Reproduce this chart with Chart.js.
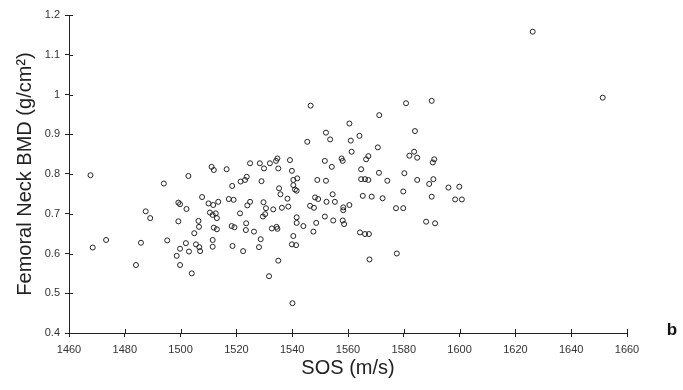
<!DOCTYPE html>
<html>
<head>
<meta charset="utf-8">
<script src="https://cdn.jsdelivr.net/npm/chart.js@4.4.1/dist/chart.umd.min.js"></script>
<style>
  html, body { margin: 0; padding: 0; background: #ffffff; }
  #wrap { width: 683px; height: 390px; }
</style>
</head>
<body>
<div id="wrap"><canvas id="c" width="683" height="390"></canvas></div>
<script>
// SOS (m/s)
const sosValues = [
  1467.7, 1468.5, 1473.3, 1484.0, 1485.8, 1487.5, 1489.1, 1494.0, 1495.2, 1499.2,
  1499.8, 1502.1, 1499.2, 1502.8, 1507.7, 1511.1, 1511.9, 1516.5, 1517.3, 1510.0,
  1511.7, 1513.5, 1510.5, 1512.6, 1511.5, 1513.0, 1506.4, 1506.6, 1504.9, 1511.9,
  1513.0, 1511.5, 1511.5, 1501.9, 1499.8, 1503.0, 1498.6, 1505.5, 1506.7, 1507.0,
  1499.8, 1504.0, 1546.6, 1545.4, 1534.7, 1534.2, 1539.2, 1524.9, 1528.4, 1529.9,
  1532.0, 1535.0, 1539.9, 1523.7, 1523.1, 1521.5, 1529.0, 1541.8, 1540.4, 1549.0,
  1518.5, 1540.4, 1541.0, 1541.6, 1535.3, 1535.8, 1519.0, 1538.3, 1548.2, 1549.3,
  1524.9, 1523.9, 1529.7, 1546.4, 1547.8, 1536.3, 1538.6, 1530.6, 1533.2, 1521.3,
  1529.5, 1530.3, 1541.6, 1518.3, 1519.3, 1523.5, 1523.4, 1526.3, 1528.7, 1532.7,
  1534.4, 1534.7, 1541.6, 1544.0, 1548.6, 1547.6, 1540.4, 1539.9, 1541.4, 1518.6,
  1522.4, 1528.1, 1535.0, 1531.7, 1540.1, 1580.8, 1571.2, 1560.5, 1584.0, 1552.1,
  1553.6, 1561.0, 1564.1, 1570.7, 1561.3, 1583.7, 1582.0, 1584.8, 1557.7, 1558.1,
  1567.3, 1566.5, 1551.7, 1554.2, 1564.7, 1564.7, 1567.3, 1566.1, 1571.1, 1574.1,
  1580.2, 1584.8, 1579.8, 1552.1, 1552.3, 1554.5, 1555.3, 1565.3, 1568.5, 1572.4,
  1558.3, 1560.5, 1577.2, 1579.8, 1590.0, 1590.9, 1590.4, 1590.6, 1589.1, 1596.0,
  1599.9, 1590.0, 1598.4, 1600.8, 1588.0, 1591.2, 1558.3, 1551.7, 1554.7, 1558.1,
  1558.6, 1564.3, 1566.1, 1567.5, 1577.5, 1567.7, 1626.2, 1651.3
];
// Femoral Neck BMD (g/cm2)
const bmdValues = [
  0.797, 0.615, 0.634, 0.571, 0.627, 0.706, 0.689, 0.776, 0.633, 0.728,
  0.724, 0.712, 0.681, 0.795, 0.742, 0.818, 0.810, 0.812, 0.737, 0.726,
  0.722, 0.730, 0.703, 0.701, 0.697, 0.689, 0.682, 0.667, 0.651, 0.665,
  0.661, 0.634, 0.617, 0.626, 0.612, 0.605, 0.594, 0.623, 0.616, 0.606,
  0.571, 0.550, 0.972, 0.881, 0.839, 0.833, 0.835, 0.827, 0.827, 0.814,
  0.827, 0.814, 0.808, 0.793, 0.785, 0.781, 0.782, 0.789, 0.785, 0.785,
  0.770, 0.772, 0.761, 0.758, 0.764, 0.749, 0.735, 0.738, 0.741, 0.737,
  0.730, 0.721, 0.729, 0.720, 0.715, 0.715, 0.718, 0.714, 0.711, 0.701,
  0.693, 0.699, 0.691, 0.669, 0.666, 0.676, 0.659, 0.655, 0.636, 0.663,
  0.667, 0.662, 0.677, 0.669, 0.677, 0.655, 0.644, 0.623, 0.621, 0.619,
  0.606, 0.616, 0.582, 0.543, 0.475, 0.978, 0.948, 0.927, 0.908, 0.904,
  0.887, 0.884, 0.896, 0.867, 0.856, 0.856, 0.846, 0.841, 0.839, 0.833,
  0.845, 0.837, 0.833, 0.818, 0.812, 0.787, 0.785, 0.787, 0.803, 0.783,
  0.802, 0.785, 0.756, 0.783, 0.730, 0.749, 0.730, 0.745, 0.743, 0.739,
  0.716, 0.722, 0.714, 0.714, 0.984, 0.837, 0.829, 0.787, 0.775, 0.766,
  0.768, 0.743, 0.736, 0.736, 0.680, 0.676, 0.709, 0.693, 0.683, 0.683,
  0.674, 0.653, 0.649, 0.649, 0.600, 0.585, 1.158, 0.992
];
const xTicks = [1460, 1480, 1500, 1520, 1540, 1560, 1580, 1600, 1620, 1640, 1660];
const yTicks = [0.4, 0.5, 0.6, 0.7, 0.8, 0.9, 1, 1.1, 1.2];
const xTitle = 'SOS (m/s)';
const yTitle = 'Femoral Neck BMD (g/cm\u00B2)';
const panelLabel = 'b';

const points = sosValues.map((x, i) => ({ x: x, y: bmdValues[i] }));

const innerTicks = {
  id: 'innerTicks',
  afterDraw(chart) {
    const ctx = chart.ctx;
    const xs = chart.scales.x, ys = chart.scales.y;
    const area = chart.chartArea;
    ctx.save();
    ctx.strokeStyle = '#222';
    ctx.lineWidth = 1;
    ctx.beginPath();
    xTicks.forEach(v => {
      const px = Math.round(xs.getPixelForValue(v)) + 0.5;
      ctx.moveTo(px, area.bottom);
      ctx.lineTo(px, area.bottom - 4);
    });
    yTicks.forEach(v => {
      const py = Math.round(ys.getPixelForValue(v)) + 0.5;
      ctx.moveTo(area.left, py);
      ctx.lineTo(area.left + 4, py);
    });
    ctx.stroke();
    ctx.fillStyle = '#111';
    ctx.font = 'bold 17px "Liberation Sans", Arial, sans-serif';
    ctx.textAlign = 'center';
    ctx.textBaseline = 'middle';
    ctx.fillText(panelLabel, 672, 330);
    ctx.restore();
  }
};

new Chart(document.getElementById('c'), {
  type: 'scatter',
  data: {
    datasets: [{
      data: points,
      pointRadius: 2.5,
      pointBorderWidth: 1,
      pointBorderColor: '#222',
      pointBackgroundColor: 'rgba(255,255,255,0)',
      pointHoverRadius: 2.5
    }]
  },
  options: {
    responsive: false,
    animation: false,
    events: [],
    layout: { padding: { top: 15, right: 56, left: 0, bottom: 0 } },
    plugins: { legend: { display: false }, tooltip: { enabled: false } },
    scales: {
      x: {
        type: 'linear',
        min: 1460, max: 1660,
        afterBuildTicks(scale) { scale.ticks = xTicks.map(v => ({ value: v })); },
        afterFit(scale) { scale.height = 57; },
        border: { display: true, color: '#222', width: 1 },
        grid: { display: true, drawOnChartArea: false, drawTicks: true, tickLength: 4, color: '#222' },
        ticks: {
          color: '#333',
          padding: 6,
          maxRotation: 0,
          font: { family: '"Liberation Sans", Arial, sans-serif', size: 11 },
          callback: v => String(v)
        },
        title: {
          display: true,
          text: xTitle,
          color: '#222',
          padding: { top: 0, bottom: 10 },
          font: { family: '"Liberation Sans", Arial, sans-serif', size: 20 }
        }
      },
      y: {
        type: 'linear',
        min: 0.4, max: 1.2,
        afterBuildTicks(scale) { scale.ticks = yTicks.map(v => ({ value: v })); },
        afterFit(scale) { scale.width = 69; },
        border: { display: true, color: '#222', width: 1 },
        grid: { display: true, drawOnChartArea: false, drawTicks: true, tickLength: 4, color: '#222' },
        ticks: {
          color: '#333',
          padding: 5,
          font: { family: '"Liberation Sans", Arial, sans-serif', size: 11 },
          callback: v => String(Math.round(v * 10) / 10)
        },
        title: {
          display: true,
          text: yTitle,
          color: '#222',
          padding: { top: 13, bottom: 0 },
          font: { family: '"Liberation Sans", Arial, sans-serif', size: 20 }
        }
      }
    }
  },
  plugins: [innerTicks]
});
</script>
</body>
</html>
